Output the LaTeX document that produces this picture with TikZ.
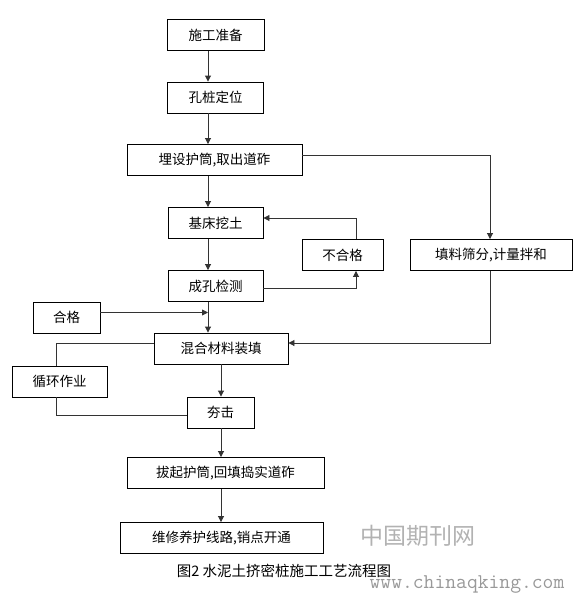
\documentclass[tikz,border=0pt]{standalone}
\usepackage{fontspec}
\newfontfamily\cjk{Noto Sans CJK SC}
\usetikzlibrary{arrows.meta,calc}
\begin{document}
\begin{tikzpicture}[x=1pt,y=-1pt,
  box/.style={draw=black,line width=0.9pt,minimum height=31pt,inner sep=0pt,font=\cjk\fontsize{13.5}{15}\selectfont},
  conn/.style={draw=black!80,line width=0.9pt},
  arr/.style={conn,-{Triangle[length=6pt,width=6pt]}}]
\useasboundingbox (0,0) rectangle (585,595);
\coordinate (mx) at (208,0);
\coordinate (sx) at (221,0);
\node[box,minimum width=97pt] (prep) at (215.5,35) {施工准备};
\node[box,minimum width=96pt] (loc) at (215.5,97.5) {孔桩定位};
\node[box,minimum width=175pt] (bury) at (214.5,160) {埋设护筒,取出道砟};
\node[box,minimum width=95pt] (dig) at (215.5,223) {基床挖土};
\node[box,minimum width=81pt] (fail) at (342.5,255) {不合格};
\node[box,minimum width=95pt] (hole) at (215.5,286) {成孔检测};
\node[box,minimum width=162pt] (sieve) at (491,255) {填料筛分,计量拌和};
\node[box,minimum width=67pt] (pass) at (66.5,317.5) {合格};
\node[box,minimum width=134pt] (mix) at (221,348.5) {混合材料装填};
\node[box,minimum width=95pt] (cycle) at (59.5,381.5) {循环作业};
\node[box,minimum width=67pt] (tamp) at (220.5,412.5) {夯击};
\node[box,minimum width=197pt] (pull) at (225.5,473) {拔起护筒,回填捣实道砟};
\node[box,minimum width=203pt] (maint) at (221.5,538) {维修养护线路,销点开通};
\node[font=\cjk\fontsize{14.5}{16}\selectfont,inner sep=0pt] (cap) at (284,571) {图2 水泥土挤密桩施工工艺流程图};
\node[font=\cjk\fontsize{23}{25}\selectfont,text=black!30,inner sep=0pt] (wm1) at (418,536) {中国期刊网};
\node[font=\ttfamily\fontsize{21}{22}\selectfont,text=black!40,inner sep=0pt] (wm2) at (467,584) {www.chinaqking.com};
\coordinate (c1) at (490,155);
\coordinate (c2) at (490,343);
\coordinate (c3) at (356,218);
\coordinate (c4) at (56,343);
\coordinate (c5) at (56,415);
% main line
\draw[arr] (prep.south -| mx) -- (loc.north -| mx);
\draw[arr] (loc.south -| mx) -- (bury.north -| mx);
\draw[arr] (bury.south -| mx) -- (dig.north -| mx);
\draw[arr] (dig.south -| mx) -- (hole.north -| mx);
\draw[arr] (hole.south -| mx) -- (mix.north -| mx);
\draw[arr] (mix.south -| sx) -- (tamp.north -| sx);
\draw[arr] (tamp.south -| sx) -- (pull.north -| sx);
\draw[arr] (pull.south -| sx) -- (maint.north -| sx);
% side branches
\draw[arr] (bury.east |- c1) -- (c1) -- (sieve.north -| c1);
\draw[arr] (sieve.south -| c2) -- (c2) -- (mix.east |- c2);
\draw[arr] (hole.east |- 0,288) -- (356,288) -- (fail.south -| c3);
\draw[arr] (fail.north -| c3) -- (c3) -- (dig.east |- c3);
\draw[arr] ($(pass.east)+(0,-5)$) -- ($(pass.east -| mx)+(0,-5)$);
\draw[conn] (mix.west |- c4) -- (c4) -- (cycle.north -| c4);
\draw[conn] (cycle.south -| c5) -- (c5) -- (tamp.west |- c5);
\end{tikzpicture}
\end{document}
